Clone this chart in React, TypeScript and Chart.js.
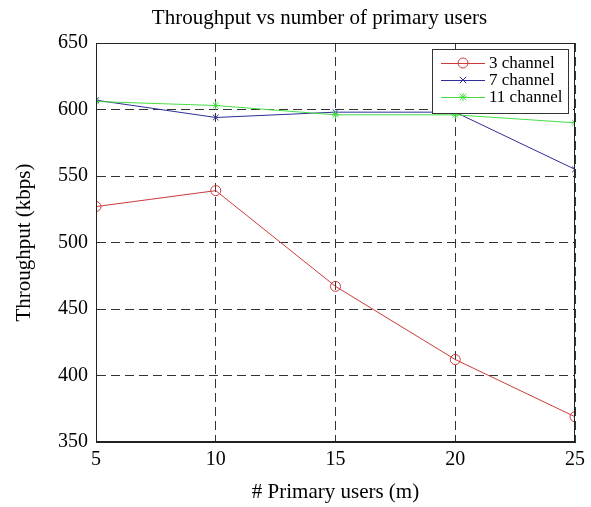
import React, { useEffect, useRef } from "react";
import { Chart, registerables } from "chart.js";

Chart.register(...registerables);

const titleText = "Throughput vs number of primary users";
const xTitle = "# Primary users (m)";
const yTitle = "Throughput (kbps)";
const primaryUsers = [5, 10, 15, 20, 25];
const seriesLabels = ["3 channel", "7 channel", "11 channel"];
const ch3 = [527, 539, 467, 412, 369];
const ch7 = [607, 594, 598, 598, 555];
const ch11 = [606, 603, 596, 596, 590];
const xMin = 5, xMax = 25, xStep = 5;
const yMin = 350, yMax = 650, yStep = 50;

const FONT = "'Liberation Serif', 'Times New Roman', serif";
const colors = ["#cc3b3b", "#2e2e96", "#45dd45"];
const styles = ["circle", "crossRot", "star"];
const radii = [5, 4, 4];

function drawMarker(ctx: CanvasRenderingContext2D, style: string, x: number, y: number, r: number, color: string) {
  ctx.save();
  ctx.strokeStyle = color;
  ctx.lineWidth = 1;
  ctx.beginPath();
  if (style === "circle") {
    ctx.arc(x, y, r, 0, Math.PI * 2);
  } else if (style === "crossRot") {
    const d = r * 0.8;
    ctx.moveTo(x - d, y - d); ctx.lineTo(x + d, y + d);
    ctx.moveTo(x - d, y + d); ctx.lineTo(x + d, y - d);
  } else {
    const d = r * 0.8;
    ctx.moveTo(x - r, y); ctx.lineTo(x + r, y);
    ctx.moveTo(x, y - r); ctx.lineTo(x, y + r);
    ctx.moveTo(x - d, y - d); ctx.lineTo(x + d, y + d);
    ctx.moveTo(x - d, y + d); ctx.lineTo(x + d, y - d);
  }
  ctx.stroke();
  ctx.restore();
}

const framePlugin = {
  id: "frameAndLegend",
  afterDraw(chart: any) {
    const { ctx, chartArea } = chart;
    const { left, right, top, bottom } = chartArea;
    ctx.save();
    ctx.strokeStyle = "#222";
    ctx.lineWidth = 1;
    ctx.setLineDash([]);
    ctx.strokeRect(left + 0.5, top + 0.5, right - left - 1, bottom - top - 1);

    // title centred over the axes, MATLAB style
    ctx.fillStyle = "#000";
    ctx.font = `21px ${FONT}`;
    ctx.textAlign = "center";
    ctx.textBaseline = "middle";
    ctx.fillText(titleText, (left + right) / 2 - 16, top - 25);

    // legend
    const bw = 136, bh = 64;
    const bx = right - 7 - bw;
    const by = top + 6;
    ctx.fillStyle = "#fff";
    ctx.fillRect(bx, by, bw, bh);
    ctx.strokeStyle = "#333";
    ctx.strokeRect(bx + 0.5, by + 0.5, bw, bh);
    ctx.font = `17px ${FONT}`;
    ctx.textBaseline = "middle";
    ctx.textAlign = "left";
    seriesLabels.forEach((lab, i) => {
      const cy = by + 14 + i * 17;
      ctx.strokeStyle = colors[i];
      ctx.lineWidth = 1;
      ctx.beginPath();
      ctx.moveTo(bx + 9, cy + 0.5);
      ctx.lineTo(bx + 53, cy + 0.5);
      ctx.stroke();
      drawMarker(ctx, styles[i], bx + 31, cy, radii[i], colors[i]);
      ctx.fillStyle = "#000";
      ctx.fillText(lab, bx + 57, cy + 1);
    });
    ctx.restore();
  },
};

export default function App() {
  const ref = useRef<HTMLCanvasElement | null>(null);
  useEffect(() => {
    if (!ref.current) return;
    const series = [ch3, ch7, ch11];
    const chart = new Chart(ref.current, {
      type: "line",
      data: {
        datasets: series.map((vals, i) => ({
          label: seriesLabels[i],
          data: primaryUsers.map((x, j) => ({ x, y: vals[j] })),
          borderColor: colors[i],
          backgroundColor: colors[i],
          borderWidth: 1,
          pointStyle: styles[i] as any,
          pointRadius: radii[i],
          pointBorderColor: colors[i],
          pointBackgroundColor: "rgba(0,0,0,0)",
          pointBorderWidth: 1,
          tension: 0,
          fill: false,
          order: 2 - i,
        })),
      },
      options: {
        animation: false,
        responsive: false,
        layout: { padding: { left: 0, right: 12, top: 43, bottom: 0 } },
        plugins: {
          legend: { display: false },
          tooltip: { enabled: false },
          title: { display: false },
        },
        scales: {
          x: {
            type: "linear",
            min: xMin,
            max: xMax,
            afterFit: (s: any) => { s.height = 65; },
            ticks: {
              stepSize: xStep,
              color: "#000",
              padding: 6,
              font: { family: FONT, size: 20 },
              maxRotation: 0,
            },
            grid: { color: "#333", lineWidth: 1, drawTicks: false },
            border: { display: true, color: "#222", dash: [9, 5] },
            title: {
              display: true,
              text: xTitle,
              color: "#000",
              font: { family: FONT, size: 21 },
              padding: { top: 0, bottom: 2 },
            },
          },
          y: {
            type: "linear",
            min: yMin,
            max: yMax,
            afterFit: (s: any) => { s.width = 96; },
            ticks: {
              stepSize: yStep,
              color: "#000",
              padding: 8,
              font: { family: FONT, size: 20 },
            },
            grid: { color: "#333", lineWidth: 1, drawTicks: false },
            border: { display: true, color: "#222", dash: [9, 5] },
            title: {
              display: true,
              text: yTitle,
              color: "#000",
              font: { family: FONT, size: 21 },
              padding: { top: 12, bottom: 0 },
            },
          },
        },
      },
      plugins: [framePlugin],
    });
    return () => chart.destroy();
  }, []);
  return (
    <div style={{ position: "fixed", left: 0, top: 0, width: 591, height: 507, background: "#fff" }}>
      <canvas ref={ref} width={591} height={507} style={{ width: 591, height: 507 }} />
    </div>
  );
}
